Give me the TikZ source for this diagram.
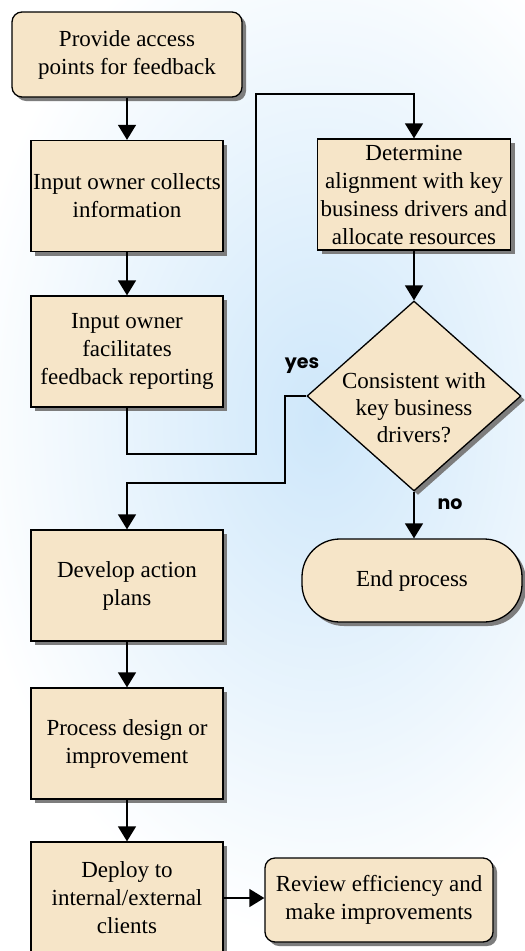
\documentclass[tikz,border=0pt]{standalone}
\usepackage{fontspec}
\setmainfont{Liberation Serif}
\newfontfamily\labelfont{Poppins}
\usetikzlibrary{arrows.meta,shapes.geometric,shadows}

\definecolor{paper}{RGB}{246,229,200}
\definecolor{skyblue}{RGB}{206,231,250}
\definecolor{shadowgray}{RGB}{125,125,125}

\tikzset{
  base/.style={draw=black, line width=1.3pt, fill=paper,
    drop shadow={shadow xshift=4pt, shadow yshift=-4pt, fill=shadowgray, opacity=1},
    font=\fontsize{23}{28}\selectfont, align=center, inner sep=0pt},
  stepbox/.style={base, rectangle, minimum width=192pt, minimum height=111pt},
  roundbox/.style={base, rectangle, rounded corners=10pt},
  stadium/.style={base, rectangle, rounded corners=38pt},
  choice/.style={base, diamond, minimum width=214pt, minimum height=190pt},
  flow/.style={draw=black, line width=1.4pt,
    -{Triangle[width=18pt,length=15pt]}},
  answer/.style={font=\labelfont\bfseries\fontsize{19}{22}\selectfont}
}

\begin{document}
\begin{tikzpicture}[x=1pt, y=-1pt]
  \useasboundingbox (0,0) rectangle (525,951);

  % backdrop: white page with a soft blue glow
  \fill[white] (0,0) rectangle (525,951);
  \shade[inner color=skyblue, outer color=white]
    (320,420) ellipse [x radius=360pt, y radius=520pt];

  % left column
  \node[roundbox, minimum width=230pt, minimum height=85pt] (start) at (127,54.5)
    {Provide access\\points for feedback};
  \node[stepbox] (collect) at (127,196) {Input owner collects\\information};
  \node[stepbox] (facil) at (127,351.5) {Input owner\\facilitates\\feedback reporting};
  \node[stepbox] (develop) at (127,585.5) {Develop action\\plans};
  \node[stepbox] (design) at (127,743.5) {Process design or\\improvement};
  \node[stepbox] (deploy) at (127,897.5) {Deploy to\\internal/external\\clients};

  % right column
  \node[stepbox, minimum width=193pt] (determine) at (414,194.5)
    {Determine\\alignment with key\\business drivers and\\allocate resources};
  \node[choice] (check) at (414,396) {};
  \node[font=\fontsize{23}{27}\selectfont, align=center] (checktext) at (414,408)
    {Consistent with\\key business\\drivers?};
  \node[stadium, minimum width=220pt, minimum height=83pt] (finish) at (412,580.5)
    {End process};
  \node[roundbox, minimum width=228pt, minimum height=84pt] (review) at (379,900)
    {Review efficiency and\\make improvements};

  % routing points
  \coordinate (loopa) at (256,454);
  \coordinate (loopb) at (256,94);
  \coordinate (yesbend) at (285,483);

  % connectors
  \draw[flow] (start) -- (collect);
  \draw[flow] (collect) -- (facil);
  \draw[flow] (facil.south) |- (loopa) -- (loopb) -| (determine.north);
  \draw[flow] (determine) -- (check);
  \draw[flow] (check.west) -| (yesbend) -| (develop.north);
  \draw[flow] (check.south) -- (check.south |- finish.north);
  \draw[flow] (develop) -- (design);
  \draw[flow] (design) -- (deploy);
  \draw[flow] (deploy.east |- 0,898) -- (review.west |- 0,898);

  % branch labels
  \node[answer] (yeslabel) at (302,366) {yes};
  \node[answer] (nolabel) at (450,504) {no};
\end{tikzpicture}
\end{document}
